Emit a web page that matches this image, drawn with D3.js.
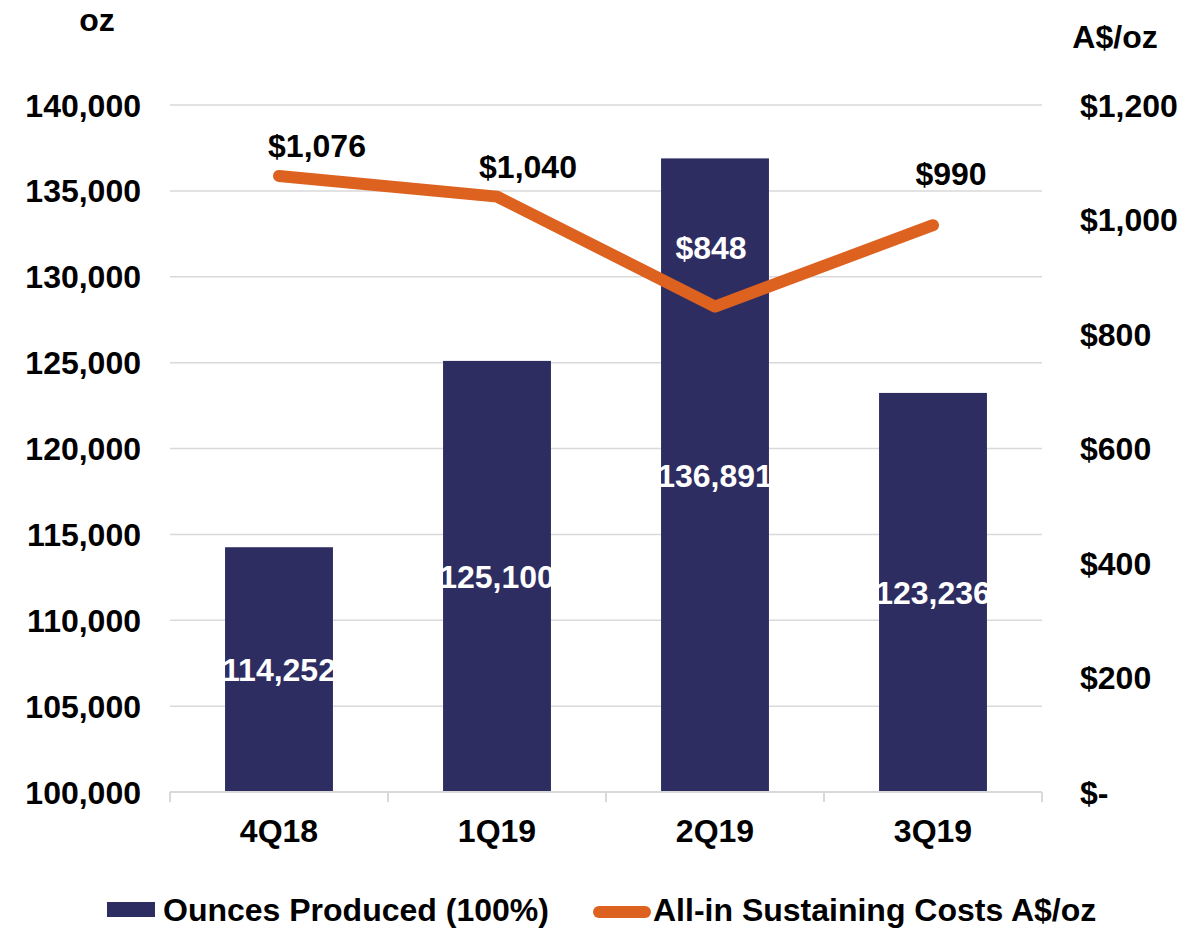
<!DOCTYPE html>
<html><head><meta charset="utf-8">
<script src="https://cdn.jsdelivr.net/npm/d3@7"></script>
<style>
html,body{margin:0;padding:0;background:#fff;}
text{font-family:"Liberation Sans",Arial,sans-serif;font-weight:bold;}
</style></head>
<body>
<svg id="chart" width="1204" height="932"></svg>
<script>
const categories = ["4Q18", "1Q19", "2Q19", "3Q19"];
const ounces = [114252, 125100, 136891, 123236];
const aisc = [1076, 1040, 848, 990];
const leftTicks = [100000, 105000, 110000, 115000, 120000, 125000, 130000, 135000, 140000];
const rightTicks = [0, 200, 400, 600, 800, 1000, 1200];
const aiscLabelOffsets = [[38, -19], [31, -19], [-4, -48], [18, -40]];

const barColor = "#2E2D62", lineColor = "#DD6220", gridColor = "#D9D9D9";
const FS = 32;
const svg = d3.select("#chart");
const x0 = 170, x1 = 1042, yTop = 105, yBot = 792;

const x = d3.scaleBand().domain(categories).range([x0, x1]).paddingInner(0.505).paddingOuter(0.2525);
const yL = d3.scaleLinear().domain([100000, 140000]).range([yBot, yTop]);
const yR = d3.scaleLinear().domain([0, 1200]).range([yBot, yTop]);
const fmtL = d3.format(",");
const fmtR = v => v === 0 ? "$-" : "$" + d3.format(",")(v);

// gridlines
svg.append("g").selectAll("line").data(leftTicks.slice(1)).join("line")
  .attr("x1", x0).attr("x2", x1).attr("y1", d => yL(d)).attr("y2", d => yL(d))
  .attr("stroke", gridColor).attr("stroke-width", 1.5);

// left axis labels
svg.append("g").selectAll("text").data(leftTicks).join("text")
  .attr("x", 141).attr("y", d => yL(d) + 11.5).attr("text-anchor", "end")
  .attr("font-size", FS).attr("fill", "#000").text(fmtL);

// right axis labels
svg.append("g").selectAll("text").data(rightTicks).join("text")
  .attr("x", 1080).attr("y", d => yR(d) + 11.5).attr("text-anchor", "start")
  .attr("font-size", FS).attr("fill", "#000").text(fmtR);

// axis titles
svg.append("text").attr("x", 97).attr("y", 31).attr("text-anchor", "middle").attr("font-size", FS).text("oz");
svg.append("text").attr("x", 1115).attr("y", 48).attr("text-anchor", "middle").attr("font-size", FS).text("A$/oz");

// bars
svg.append("g").selectAll("rect").data(categories).join("rect")
  .attr("x", d => x(d)).attr("width", x.bandwidth())
  .attr("y", (d, i) => yL(ounces[i])).attr("height", (d, i) => yBot - yL(ounces[i]))
  .attr("fill", barColor);

// bottom axis
const xb = svg.append("g");
xb.append("line").attr("x1", x0).attr("x2", x1).attr("y1", yBot).attr("y2", yBot)
  .attr("stroke", gridColor).attr("stroke-width", 2);
const bounds = categories.map(c => x(c) - x.step() * x.paddingInner() / 2).concat([x1]);
xb.selectAll("line.tk").data(bounds).join("line").attr("class", "tk")
  .attr("x1", d => d).attr("x2", d => d).attr("y1", yBot).attr("y2", yBot + 10)
  .attr("stroke", gridColor).attr("stroke-width", 2);
xb.selectAll("text").data(categories).join("text")
  .attr("x", d => x(d) + x.bandwidth() / 2).attr("y", 842).attr("text-anchor", "middle")
  .attr("font-size", FS).text(d => d);

// bar labels
svg.append("g").selectAll("text").data(categories).join("text")
  .attr("x", d => x(d) + x.bandwidth() / 2)
  .attr("y", (d, i) => (yL(ounces[i]) + yBot) / 2 + 11.5)
  .attr("text-anchor", "middle").attr("font-size", FS).attr("fill", "#fff")
  .text((d, i) => fmtL(ounces[i]));

// line
const line = d3.line().x((d, i) => x(categories[i]) + x.bandwidth() / 2).y(d => yR(d));
svg.append("path").datum(aisc).attr("d", line).attr("fill", "none")
  .attr("stroke", lineColor).attr("stroke-width", 12)
  .attr("stroke-linecap", "round").attr("stroke-linejoin", "round");

// line labels
svg.append("g").selectAll("text").data(aisc).join("text")
  .attr("x", (d, i) => x(categories[i]) + x.bandwidth() / 2 + aiscLabelOffsets[i][0])
  .attr("y", (d, i) => yR(d) + aiscLabelOffsets[i][1])
  .attr("text-anchor", "middle").attr("font-size", FS)
  .attr("fill", (d, i) => i === 2 ? "#fff" : "#000")
  .text(d => "$" + d3.format(",")(d));

// legend
const lg = svg.append("g");
lg.append("rect").attr("x", 107).attr("y", 902).attr("width", 48).attr("height", 15).attr("fill", barColor);
lg.append("text").attr("x", 163).attr("y", 921).attr("font-size", FS).text("Ounces Produced (100%)");
lg.append("line").attr("x1", 599).attr("x2", 645).attr("y1", 912).attr("y2", 912)
  .attr("stroke", lineColor).attr("stroke-width", 12).attr("stroke-linecap", "round");
lg.append("text").attr("x", 653).attr("y", 921).attr("font-size", FS).text("All-in Sustaining Costs A$/oz");
</script>
</body></html>
